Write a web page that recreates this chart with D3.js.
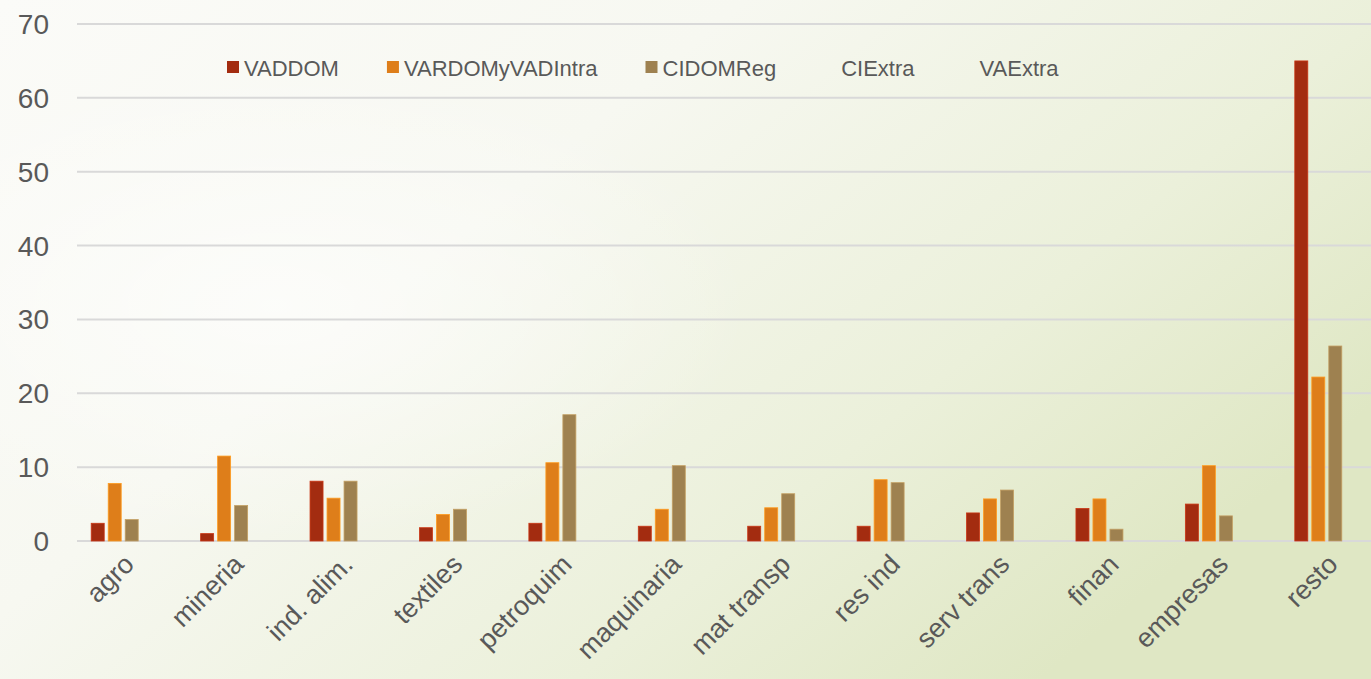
<!DOCTYPE html>
<html>
<head>
<meta charset="utf-8">
<script src="https://cdn.jsdelivr.net/npm/d3@7"></script>
<style>
  body { margin: 0; overflow: hidden; }
  text { font-family: "Liberation Sans", Arial, sans-serif; fill: #595959; }
</style>
</head>
<body>
<div id="chart"></div>
<script>
var categories = ["agro", "mineria", "ind. alim.", "textiles", "petroquim", "maquinaria",
    "mat transp", "res ind", "serv trans", "finan", "empresas", "resto"];
var seriesNames = ["VADDOM", "VARDOMyVADIntra", "CIDOMReg", "CIExtra", "VAExtra"];
var seriesColors = ["#A32C10", "#DE7E1A", "#9E8150", "none", "none"];
var VADDOM = [2.4, 1.0, 8.1, 1.8, 2.4, 2.0, 2.0, 2.0, 3.8, 4.4, 5.0, 65.0];
var VARDOMyVADIntra = [7.8, 11.5, 5.8, 3.6, 10.6, 4.3, 4.5, 8.3, 5.7, 5.7, 10.2, 22.2];
var CIDOMReg = [2.9, 4.8, 8.1, 4.3, 17.1, 10.2, 6.4, 7.9, 6.9, 1.6, 3.4, 26.4];
var yTicks = [0, 10, 20, 30, 40, 50, 60, 70];

var w = 1371, h = 679;
var barSeries = [VADDOM, VARDOMyVADIntra, CIDOMReg];

var svg = d3.select("#chart").append("svg")
    .attr("width", w)
    .attr("height", h);

var defs = svg.append("defs");
var lg = defs.append("linearGradient").attr("id", "bg")
    .attr("x1", "0%").attr("y1", "0%").attr("x2", "100%").attr("y2", "60%");
lg.append("stop").attr("offset", "0%").attr("stop-color", "#FBFBF8");
lg.append("stop").attr("offset", "40%").attr("stop-color", "#F7F8F1");
lg.append("stop").attr("offset", "75%").attr("stop-color", "#EBF0DA");
lg.append("stop").attr("offset", "100%").attr("stop-color", "#DFE7C4");
var rg = defs.append("radialGradient").attr("id", "glow")
    .attr("cx", "20%").attr("cy", "45%").attr("r", "35%");
rg.append("stop").attr("offset", "0%").attr("stop-color", "#FFFFFF").attr("stop-opacity", 0.6);
rg.append("stop").attr("offset", "100%").attr("stop-color", "#FFFFFF").attr("stop-opacity", 0);

svg.append("rect").attr("width", w).attr("height", h).attr("fill", "url(#bg)");
svg.append("rect").attr("width", w).attr("height", h).attr("fill", "url(#glow)");

var x = d3.scaleBand()
    .domain(categories)
    .range([60, 1373]);

var y = d3.scaleLinear()
    .domain([0, 70])
    .range([541, 24]);

// gridlines
svg.append("g").selectAll("line")
    .data(yTicks)
    .enter()
    .append("line")
    .attr("x1", 77)
    .attr("x2", w)
    .attr("y1", function (d) { return y(d); })
    .attr("y2", function (d) { return y(d); })
    .attr("stroke", "#D9D9D9")
    .attr("stroke-width", 2);

// y axis labels
svg.append("g").selectAll("text")
    .data(yTicks)
    .enter()
    .append("text")
    .attr("x", 49)
    .attr("y", function (d) { return y(d) + 10; })
    .attr("text-anchor", "end")
    .style("font-size", "28px")
    .text(function (d) { return d; });

// bars
var inner = d3.scaleBand()
    .domain(d3.range(barSeries.length))
    .range([-23.5, 23.5])
    .paddingInner(0.235);

barSeries.forEach(function (vals, s) {
    svg.append("g").selectAll("rect")
        .data(vals)
        .enter()
        .append("rect")
        .attr("x", function (d, i) { return x(categories[i]) + x.bandwidth() / 2 + inner(s); })
        .attr("y", function (d) { return y(d); })
        .attr("width", inner.bandwidth())
        .attr("height", function (d) { return y(0) - y(d); })
        .attr("fill", seriesColors[s])
        .attr("stroke", d3.color(seriesColors[s]).brighter(0.6))
        .attr("stroke-width", 0.8);
});

// category labels
svg.append("g").selectAll("text")
    .data(categories)
    .enter()
    .append("text")
    .attr("transform", function (d) {
        return "translate(" + (x(d) + x.bandwidth() / 2 + 21) + ",566) rotate(-45)";
    })
    .attr("text-anchor", "end")
    .style("font-size", "27px")
    .text(function (d) { return d; });

// legend
var legend = svg.append("g");
var lx = 227;
seriesNames.forEach(function (name, i) {
    legend.append("rect")
        .attr("x", lx)
        .attr("y", 61)
        .attr("width", 12)
        .attr("height", 12)
        .attr("fill", seriesColors[i]);
    var t = legend.append("text")
        .attr("x", lx + 17)
        .attr("y", 76)
        .style("font-size", "22px")
        .text(name);
    lx = lx + 17 + t.node().getComputedTextLength() + 48;
});
</script>
</body>
</html>
